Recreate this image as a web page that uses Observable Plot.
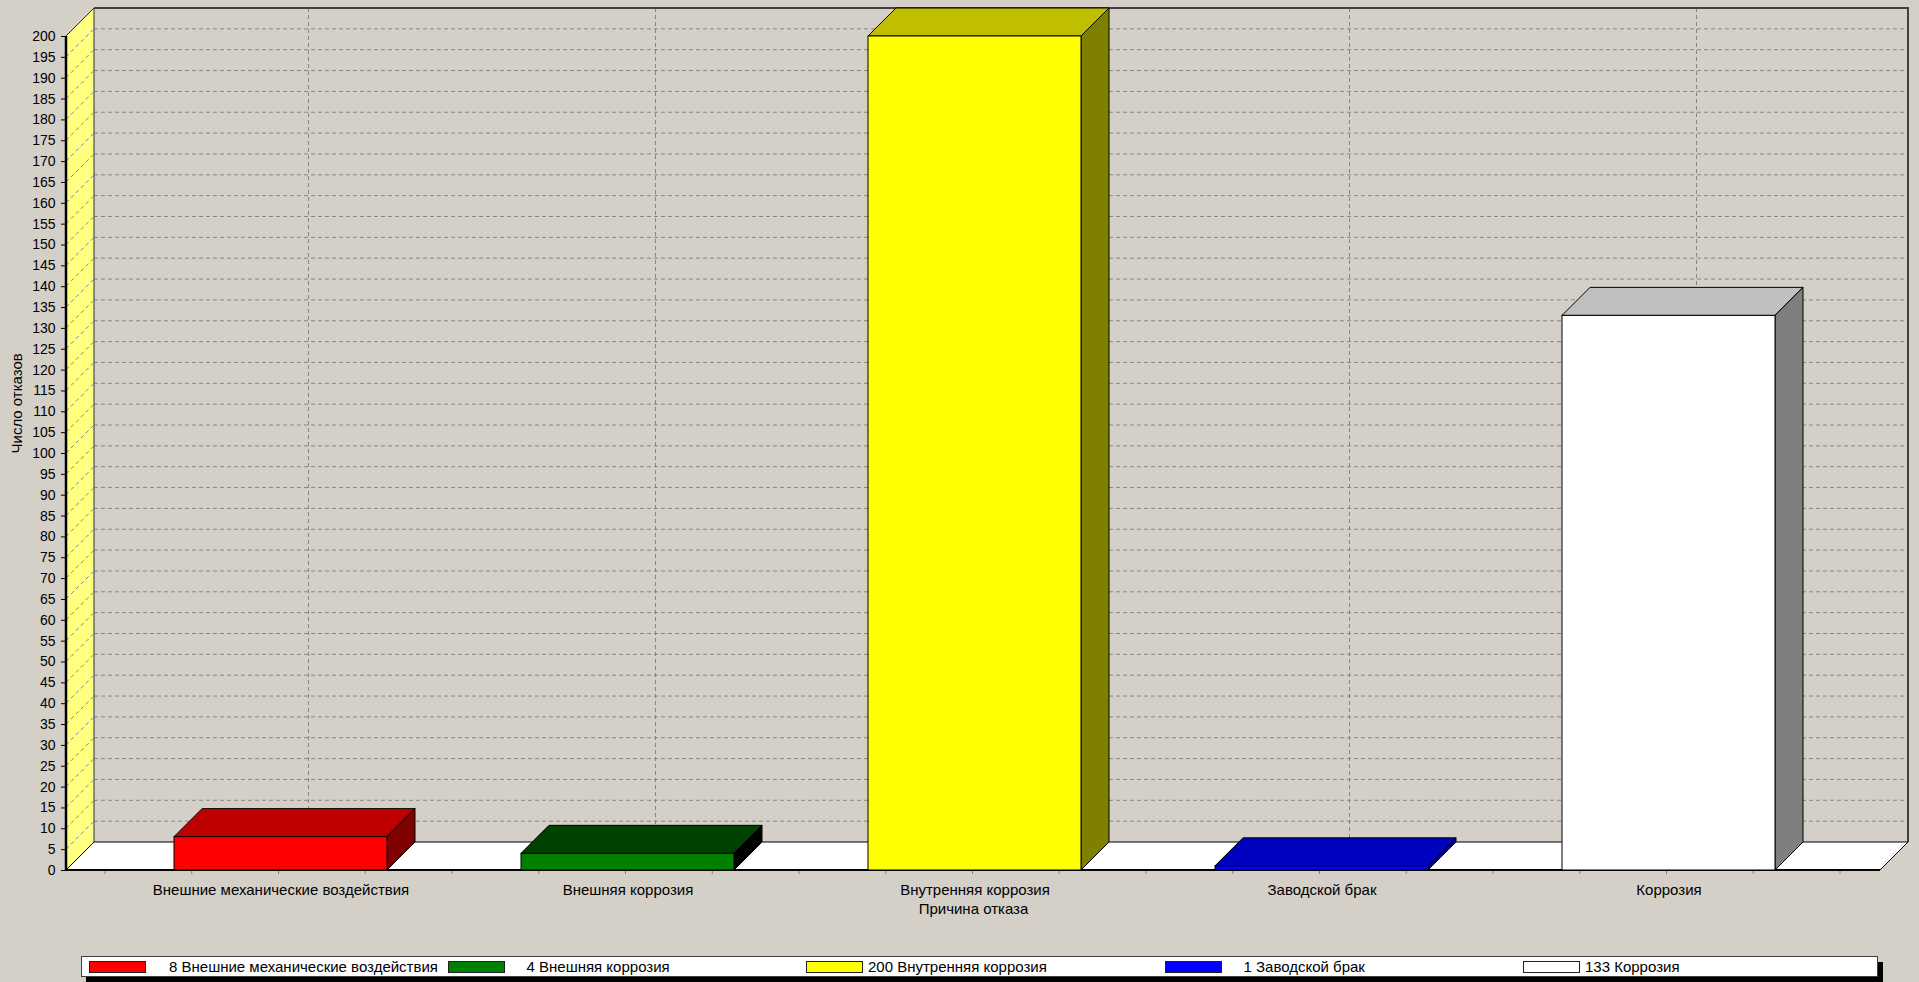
<!DOCTYPE html>
<html>
<head>
<meta charset="utf-8">
<script src="https://cdn.jsdelivr.net/npm/d3@7"></script>
<script src="https://cdn.jsdelivr.net/npm/@observablehq/plot@0.6"></script>
<style>
  html, body { margin: 0; padding: 0; background: #d4d0c8; overflow: hidden; }
  body { width: 1919px; height: 982px; position: relative; font-family: "Liberation Sans", Arial, sans-serif; }
  #chart svg { display: block; }
  .legend {
    position: absolute; left: 81px; top: 956px; width: 1797px; height: 21px;
    background: #fff; border: 1px solid #404040; box-sizing: border-box;
    box-shadow: 5px 6px 0 #000; font-size: 15px; color: #000;
  }
  .legend .sw { position: absolute; top: 4px; width: 57px; height: 12px; border: 1px solid #202020; box-sizing: border-box; }
  .legend .lb { position: absolute; top: 0; line-height: 19px; white-space: nowrap; }
</style>
</head>
<body>
<div id="chart"></div>
<div class="legend" id="legend"></div>
<script>
// Failure causes and the number of failures for each
const categories = [
  "Внешние механические воздействия",
  "Внешняя коррозия",
  "Внутренняя коррозия",
  "Заводской брак",
  "Коррозия"
];
const counts = [8, 4, 200, 1, 133];
const colors = ["#ff0000", "#008000", "#ffff00", "#0000ff", "#ffffff"];
const yTicks = [0, 5, 10, 15, 20, 25, 30, 35, 40, 45, 50, 55, 60, 65, 70, 75, 80, 85, 90, 95, 100,
  105, 110, 115, 120, 125, 130, 135, 140, 145, 150, 155, 160, 165, 170, 175, 180, 185, 190, 195, 200];
const yTitle = "Число отказов";
const xTitle = "Причина отказа";

const rows = categories.map((c, i) => ({cause: c, count: counts[i], color: colors[i]}));

const DEPTH = 28;          // 3D depth offset in pixels (right and up)
const GRID = "#868686";
const DASH = "4,3";
const PAD = 0.387;         // gap between columns, as a share of the category step

// darker shades for the top and side faces of the 3D columns
function shade(color, k) {
  const c = d3.rgb(color);
  return d3.rgb(Math.max(0, c.r - k), Math.max(0, c.g - k), Math.max(0, c.b - k)).formatHex();
}
const bw = (x) => typeof x.bandwidth === "function" ? x.bandwidth() : x.bandwidth;
const st = (x) => typeof x.step === "function" ? x.step() : x.step;

// walls, floor, grid and axis line of the 3D box
function box(index, scales, values, dim) {
  const {x, y} = scales;
  const L = dim.marginLeft, R = dim.width - dim.marginRight;
  const y0 = y(0), yT = y(yTicks[yTicks.length - 1]);
  const D = DEPTH;
  const g = d3.create("svg:g");

  // back wall
  g.append("rect").attr("x", L + D).attr("y", yT - D).attr("width", R - L).attr("height", y0 - yT)
    .attr("fill", "#d4d0c8");
  // horizontal grid on the back wall
  for (const t of yTicks) {
    if (t === 0 || t === yTicks[yTicks.length - 1]) continue;
    g.append("line").attr("x1", L + D).attr("x2", R + D).attr("y1", y(t) - D).attr("y2", y(t) - D)
      .attr("stroke", GRID).attr("stroke-dasharray", DASH);
  }
  // vertical grid at each category
  for (const c of categories) {
    const cx = x(c) + bw(x) / 2 + D;
    g.append("line").attr("x1", cx).attr("x2", cx).attr("y1", yT - D).attr("y2", y0 - D)
      .attr("stroke", GRID).attr("stroke-dasharray", DASH);
  }
  // back wall border (top and right)
  g.append("path").attr("d", `M${L + D},${yT - D}H${R + D}V${y0 - D}`)
    .attr("fill", "none").attr("stroke", "#404040").attr("stroke-width", 2);

  // left side wall
  g.append("path").attr("d", `M${L},${y0}V${yT}L${L + D},${yT - D}V${y0 - D}Z`)
    .attr("fill", "#ffff80").attr("stroke", "#303030").attr("stroke-width", 1);
  for (const t of yTicks) {
    if (t === 0 || t === yTicks[yTicks.length - 1]) continue;
    g.append("line").attr("x1", L).attr("y1", y(t)).attr("x2", L + D).attr("y2", y(t) - D)
      .attr("stroke", GRID).attr("stroke-dasharray", DASH);
  }

  // floor
  g.append("path").attr("d", `M${L},${y0}L${L + D},${y0 - D}H${R + D}L${R},${y0}Z`)
    .attr("fill", "#ffffff").attr("stroke", "#000").attr("stroke-width", 1);
  g.append("line").attr("x1", L).attr("x2", R).attr("y1", y0).attr("y2", y0)
    .attr("stroke", "#000").attr("stroke-width", 2);

  // minor ticks below the floor, four per category
  const [r0] = x.range();
  const n = categories.length * 4;
  for (let k = 0; k <= n; k++) {
    const tx = r0 + k * st(x) / 4;
    g.append("line").attr("x1", tx).attr("x2", tx).attr("y1", y0 + 1).attr("y2", y0 + 4)
      .attr("stroke", "#808080");
  }

  // value axis line
  g.append("line").attr("x1", L).attr("x2", L).attr("y1", yT).attr("y2", y0 + 1)
    .attr("stroke", "#000").attr("stroke-width", 2.5);
  return g.node();
}

// top and side faces of each column
function columnFaces(index, scales) {
  const {x, y} = scales;
  const D = DEPTH, w = bw(x), y0 = y(0);
  const g = d3.create("svg:g").attr("stroke", "#000").attr("stroke-width", 1).attr("stroke-linejoin", "round");
  for (const r of rows) {
    const x0 = x(r.cause), x1 = x0 + w, yt = y(r.count);
    g.append("path").attr("d", `M${x0},${yt}L${x0 + D},${yt - D}H${x1 + D}L${x1},${yt}Z`)
      .attr("fill", shade(r.color, 64));
    g.append("path").attr("d", `M${x1},${yt}L${x1 + D},${yt - D}V${y0 - D}L${x1},${y0}Z`)
      .attr("fill", shade(r.color, 128));
  }
  return g.node();
}

const chart = Plot.plot({
  width: 1919,
  height: 940,
  marginLeft: 66,
  marginRight: 39,
  marginTop: 36,
  marginBottom: 70,
  style: {
    background: "transparent",
    fontFamily: "'Liberation Sans', Arial, sans-serif",
    fontSize: "14px",
    color: "#000",
    overflow: "visible"
  },
  x: {type: "band", domain: categories, range: [105, 1843], paddingInner: PAD, paddingOuter: PAD / 2, axis: null},
  y: {domain: [0, 200], ticks: yTicks, tickFormat: d => String(d), tickSize: 5, tickPadding: 6, label: null},
  marks: [
    box,
    columnFaces,
    Plot.barY(rows, {x: "cause", y: "count", fill: "color", stroke: "#000", strokeWidth: 1}),
    Plot.text(categories, {x: d => d, frameAnchor: "bottom", dy: 20, text: d => d,
      lineAnchor: "middle", fill: "#000", fontSize: 15}),
    Plot.text([xTitle], {frameAnchor: "bottom", dy: 39, text: d => d, lineAnchor: "middle", fill: "#000", fontSize: 15}),
    Plot.text([yTitle], {frameAnchor: "left", dx: -49, rotate: -90, text: d => d, lineAnchor: "middle", fill: "#000", fontSize: 15})
  ]
});
document.getElementById("chart").append(chart);

// legend: one cell per cause, colour swatch followed by value and cause
const legendCell = 358.5;
const legendTextOffset = [80, 79, 62, 79, 62];
const legend = document.getElementById("legend");
rows.forEach((r, i) => {
  const left = 7 + i * legendCell;
  const sw = document.createElement("div");
  sw.className = "sw";
  sw.style.left = left + "px";
  sw.style.background = r.color;
  legend.append(sw);
  const lb = document.createElement("div");
  lb.className = "lb";
  lb.style.left = (left + legendTextOffset[i]) + "px";
  lb.textContent = `${r.count} ${r.cause}`;
  legend.append(lb);
});
</script>
</body>
</html>
